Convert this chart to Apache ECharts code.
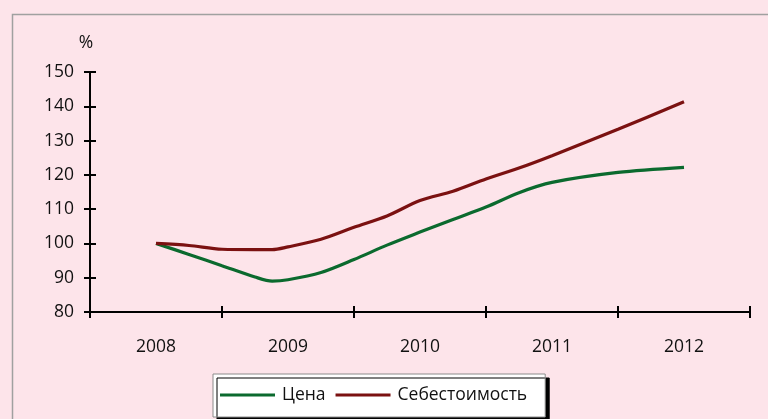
<!DOCTYPE html>
<html>
<head>
<meta charset="utf-8">
<script src="https://cdn.jsdelivr.net/npm/echarts@6/dist/echarts.min.js"></script>
<style>
html,body{margin:0;padding:0;background:#fde4ea;}
#chart{width:768px;height:419px;}
</style>
</head>
<body>
<div id="chart"></div>
<script>
const categories = ['2008', '2009', '2010', '2011', '2012'];
const yTicks = [80, 90, 100, 110, 120, 130, 140, 150];
const timePoints = [2008, 2008.25, 2008.5, 2008.75, 2008.88, 2009, 2009.25, 2009.5, 2009.75, 2010, 2010.25, 2010.5, 2010.75, 2011, 2011.5, 2012];
const priceValues = [100, 96.8, 93.5, 90.2, 89.0, 89.4, 91.5, 95.3, 99.5, 103.3, 107.0, 110.6, 114.8, 117.8, 120.7, 122.2];
const costValues = [100, 99.4, 98.3, 98.2, 98.2, 99.0, 101.2, 104.7, 108.0, 112.5, 115.2, 118.8, 122.0, 125.6, 133.3, 141.3];
const seriesNames = ['Цена', 'Себестоимость'];

const chart = echarts.init(document.getElementById('chart'));
const font = 'Open Sans';
const fs = 17.5;
const pair = (xs, ys) => xs.map((x, i) => [x, ys[i]]);

chart.setOption({
  backgroundColor: '#fde4ea',
  animation: false,
  graphic: [{
    type: 'rect', left: 10, top: 12, z: -10,
    shape: { width: 800, height: 420 },
    style: { fill: 'none', stroke: '#a0a0a0', lineWidth: 1.5 }
  }],
  grid: { left: 90, right: 18, top: 72, bottom: 107 },
  legend: {
    left: 213, top: 374,
    icon: 'rect', itemWidth: 55, itemHeight: 3, itemGap: 10,
    backgroundColor: '#ffffff', borderColor: '#8c8c8c', borderWidth: 1,
    padding: [12, 18, 13, 7],
    shadowColor: '#000', shadowOffsetX: 4, shadowOffsetY: 4, shadowBlur: 0,
    borderRadius: 0,
    textStyle: { fontFamily: font, fontSize: fs, color: '#111', padding: [0, 0, 0, 2] },
    data: seriesNames
  },
  xAxis: [
    {
      type: 'category', data: categories, boundaryGap: true,
      axisLine: { lineStyle: { color: '#000', width: 2 } },
      axisTick: { show: true, length: 6, lineStyle: { color: '#000', width: 2 } },
      axisLabel: { fontFamily: font, fontSize: fs, color: '#111', margin: 26 }
    },
    {
      type: 'category', data: categories, boundaryGap: true, position: 'bottom',
      axisLine: { show: false },
      axisTick: { show: true, inside: true, length: 6, lineStyle: { color: '#000', width: 2 } },
      axisLabel: { show: false }
    },
    {
      type: 'value', min: 2007.5, max: 2012.5, show: false
    }
  ],
  yAxis: [
    {
      type: 'value', min: yTicks[0], max: yTicks[yTicks.length - 1], interval: 10,
      name: '%', nameLocation: 'end', nameGap: 20,
      nameTextStyle: { fontFamily: font, fontSize: fs, color: '#111', align: 'center', padding: [0, 8, 0, 0] },
      axisLine: { show: true, lineStyle: { color: '#000', width: 2 } },
      axisTick: { show: true, length: 6, lineStyle: { color: '#000', width: 2 } },
      axisLabel: { fontFamily: font, fontSize: fs, color: '#111', margin: 16 },
      splitLine: { show: false }
    },
    {
      type: 'value', position: 'left', min: yTicks[0], max: yTicks[yTicks.length - 1], interval: 10,
      axisLine: { show: false },
      axisTick: { show: true, inside: true, length: 6, lineStyle: { color: '#000', width: 2 } },
      axisLabel: { show: false },
      splitLine: { show: false }
    }
  ],
  series: [
    {
      name: seriesNames[0], type: 'line', xAxisIndex: 2, yAxisIndex: 0,
      data: pair(timePoints, priceValues), smooth: 0.3, showSymbol: false,
      lineStyle: { color: '#0b6a2e', width: 3.2 }, itemStyle: { color: '#0b6a2e' }
    },
    {
      name: seriesNames[1], type: 'line', xAxisIndex: 2, yAxisIndex: 0,
      data: pair(timePoints, costValues), smooth: 0.3, showSymbol: false,
      lineStyle: { color: '#7b1111', width: 3.2 }, itemStyle: { color: '#7b1111' }
    }
  ]
});
</script>
</body>
</html>
